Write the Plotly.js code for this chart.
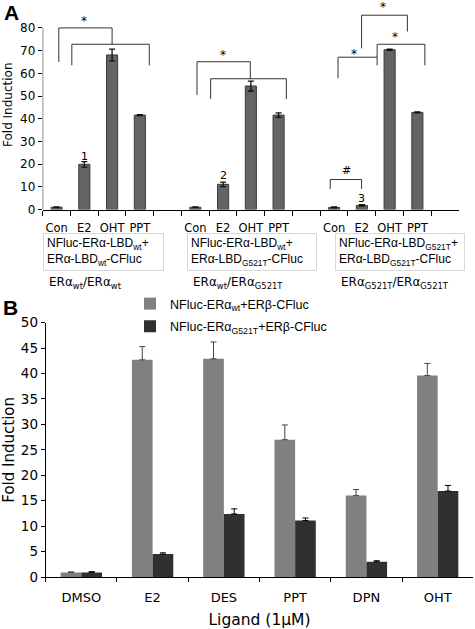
<!DOCTYPE html>
<html><head><meta charset="utf-8">
<script src="https://cdn.plot.ly/plotly-3.0.1.min.js"></script>
<style>html,body{margin:0;padding:0;background:#fff}#chart{width:475px;height:629px}</style>
</head><body><div id="chart"></div>
<script>
// ---------- Panel A data ----------
const ligandsA = ['Con', 'E2', 'OHT', 'PPT'];
const pairLabelsA = ['ERα<sub>wt</sub>/ERα<sub>wt</sub>', 'ERα<sub>wt</sub>/ERα<sub>G521T</sub>', 'ERα<sub>G521T</sub>/ERα<sub>G521T</sub>'];
const constructLabelsA = [
  'NFluc-ERα-LBD<sub>wt</sub>+<br>ERα-LBD<sub>wt</sub>-CFluc',
  'NFluc-ERα-LBD<sub>wt</sub>+<br>ERα-LBD<sub>G521T</sub>-CFluc',
  'NFluc-ERα-LBD<sub>G521T</sub>+<br>ERα-LBD<sub>G521T</sub>-CFluc'
];
const foldWtWt = [1.0, 19.9, 68.1, 41.6];
const errWtWt = [0.2, 1.2, 2.6, 0.2];
const foldWtMut = [1.0, 11.1, 54.4, 41.6];
const errWtMut = [0.2, 1.0, 2.2, 1.0];
const foldMutMut = [0.9, 1.8, 70.4, 42.8];
const errMutMut = [0.2, 0.3, 0.3, 0.2];
const markLabelsA = ['1', '2', '3'];

// ---------- Panel B data ----------
const ligandsB = ['DMSO', 'E2', 'DES', 'PPT', 'DPN', 'OHT'];
const seriesNamesB = ['NFluc-ERα<sub>wt</sub>+ERβ-CFluc', 'NFluc-ERα<sub>G521T</sub>+ERβ-CFluc'];
const foldBwt = [0.9, 42.7, 42.9, 27.0, 16.0, 39.6];
const errBwt = [0.1, 2.6, 3.3, 2.9, 1.2, 2.4];
const foldBmut = [0.9, 4.5, 12.4, 11.1, 3.0, 16.9];
const errBmut = [0.15, 0.25, 1.0, 0.5, 0.2, 1.1];

// ---------- helpers ----------
const W = 475, H = 629;
const px = p => p / W;
const py = p => 1 - p / H;
const groupsA = [foldWtWt, foldWtMut, foldMutMut];
const groupErrA = [errWtWt, errWtMut, errMutMut];

// build A bar positions (category index, one empty slot between groups)
const xA = [], yA = [], eA = [], tickValsA = [], tickTextA = [];
groupsA.forEach((vals, g) => {
  vals.forEach((v, i) => {
    const idx = g * (ligandsA.length + 1) + i;
    xA.push(idx); yA.push(v); eA.push(groupErrA[g][i]);
    tickValsA.push(idx); tickTextA.push(ligandsA[i]);
  });
});
const nSlotsA = groupsA.length * (ligandsA.length + 1) - 1;
const boundariesA = [];
for (let k = 0; k <= nSlotsA; k++) boundariesA.push(k - 0.5);

const traces = [
  {
    type: 'bar', x: xA, y: yA, xaxis: 'x', yaxis: 'y', width: 0.4,
    marker: { color: '#646464', line: { color: '#3a3a3a', width: 1 } },
    error_y: { type: 'data', array: eA, visible: true, color: '#111', thickness: 1.3, width: 3 },
    showlegend: false, hoverinfo: 'skip'
  },
  {
    type: 'bar', x: ligandsB, y: foldBwt, xaxis: 'x2', yaxis: 'y2', name: seriesNamesB[0],
    marker: { color: '#808080', line: { width: 0 } },
    error_y: { type: 'data', array: errBwt, arrayminus: errBwt.map(() => 0), symmetric: false, visible: true, color: '#444', thickness: 1, width: 3 },
    legend: 'legend', hoverinfo: 'skip'
  },
  {
    type: 'bar', x: ligandsB, y: foldBmut, xaxis: 'x2', yaxis: 'y2', name: seriesNamesB[1],
    marker: { color: '#303030', line: { width: 0 } },
    error_y: { type: 'data', array: errBmut, arrayminus: errBmut.map(() => 0), symmetric: false, visible: true, color: '#000', thickness: 1, width: 3 },
    legend: 'legend2', hoverinfo: 'skip'
  }
];

// significance brackets for panel A: [xLeft, xRight, yTop, yLeftBottom, yRightBottom]
const brackets = [
  [0.08, 2.0, 80, 65, 72.8],
  [0.55, 3.34, 72.8, 63.5, 63.5],
  [5.06, 6.98, 65.1, 50.5, 57.6],
  [5.55, 8.28, 57.6, 48.7, 48.7],
  [9.86, 10.99, 13.2, 9.0, 9.0],
  [10.14, 11.55, 67.1, 57.8, 67.1],
  [11.55, 13.27, 72.8, 63.5, 63.5],
  [10.99, 12.64, 85.6, 71.0, 78.4]
];
const shapes = [];
const ln = { color: '#333', width: 1 };
brackets.forEach(b => {
  shapes.push({ type: 'path', xref: 'x', yref: 'y', line: ln,
    path: `M${b[0]},${b[3]} L${b[0]},${b[2]} L${b[1]},${b[2]} L${b[1]},${b[4]}` });
});
// panel A y axis line (only up to 80)
shapes.push({ type: 'line', xref: 'x', yref: 'y', x0: -0.5, x1: -0.5, y0: 0, y1: 80, line: { color: '#000', width: 1 } });

const txt = (o) => Object.assign({ showarrow: false, font: { family: 'DejaVu Sans', size: 12, color: '#000' } }, o);
const starFont = { family: 'DejaVu Sans', size: 12, color: '#000000' };
const annotations = [
  txt({ xref: 'paper', yref: 'paper', x: px(2), y: py(12), xanchor: 'left', yanchor: 'middle', text: '<b>A</b>', font: { family: 'Liberation Sans', size: 21, color: '#000' } }),
  txt({ xref: 'paper', yref: 'paper', x: px(1), y: py(307), xanchor: 'left', yanchor: 'middle', text: '<b>B</b>', font: { family: 'Liberation Sans', size: 21, color: '#000' } }),
  // numbered marks
  txt({ xref: 'x', yref: 'y', x: 1, y: 23.3, yanchor: 'middle', text: markLabelsA[0], font: { family: 'DejaVu Sans', size: 11, color: '#000' } }),
  txt({ xref: 'x', yref: 'y', x: 6, y: 15.2, yanchor: 'middle', text: markLabelsA[1], font: { family: 'DejaVu Sans', size: 11, color: '#000' } }),
  txt({ xref: 'x', yref: 'y', x: 11, y: 4.9, yanchor: 'middle', text: markLabelsA[2], font: { family: 'DejaVu Sans', size: 11, color: '#000' } }),
  // stars and hash
  txt({ xref: 'x', yref: 'y', x: 1.0, y: 83.0, yanchor: 'middle', text: '*', font: starFont }),
  txt({ xref: 'x', yref: 'y', x: 6.0, y: 68.2, yanchor: 'middle', text: '*', font: starFont }),
  txt({ xref: 'x', yref: 'y', x: 10.7, y: 68.6, yanchor: 'middle', text: '*', font: starFont }),
  txt({ xref: 'x', yref: 'y', x: 12.2, y: 76.0, yanchor: 'middle', text: '*', font: starFont }),
  txt({ xref: 'x', yref: 'y', x: 11.75, y: 89.2, yanchor: 'middle', text: '*', font: starFont }),
  txt({ xref: 'x', yref: 'y', x: 10.45, y: 17.1, yanchor: 'middle', text: '#', font: { family: 'DejaVu Sans', size: 11, color: '#000' } })
];
// construct boxes and pair labels
const boxes = [[43, 164], [187, 317], [335, 465]];
boxes.forEach((b, g) => {
  annotations.push(txt({
    xref: 'paper', yref: 'paper', x: px((b[0] + b[1]) / 2), y: py(251.5), xanchor: 'center', yanchor: 'middle',
    text: constructLabelsA[g], align: 'left', width: b[1] - b[0] - 8, height: 30, borderpad: 3,
    bordercolor: '#d8d8d8', borderwidth: 1, valign: 'middle',
    font: { family: 'Liberation Sans', size: 12, color: '#000' }
  }));
  annotations.push(txt({
    xref: 'paper', yref: 'paper', x: px(b[0] + 4), y: py(283), xanchor: 'left', yanchor: 'middle',
    text: pairLabelsA[g], font: { family: 'DejaVu Sans', size: 12, color: '#000' }
  }));
});

const layout = {
  width: W, height: H,
  margin: { l: 0, r: 0, t: 0, b: 0 },
  paper_bgcolor: '#fff', plot_bgcolor: 'rgba(0,0,0,0)',
  barmode: 'group', bargap: 0.42, bargroupgap: 0,
  font: { family: 'DejaVu Sans', color: '#000' },
  xaxis: {
    domain: [px(42.7), px(459)], anchor: 'y', range: [-0.5, nSlotsA + 0.5],
    tickmode: 'array', tickvals: tickValsA, ticktext: tickTextA, ticks: '',
    minor: { tickmode: 'array', tickvals: boundariesA, ticks: 'outside', ticklen: 5, tickcolor: '#000', showgrid: false },
    showline: true, linecolor: '#000', linewidth: 1, zeroline: false, showgrid: false,
    tickfont: { family: 'DejaVu Sans', size: 11.5, color: '#000' }, ticklabelstandoff: 8, fixedrange: true
  },
  yaxis: {
    domain: [py(209.5), 1], anchor: 'x', range: [0, 92.3],
    tickmode: 'array', tickvals: [0, 10, 20, 30, 40, 50, 60, 70, 80],
    ticks: 'outside', ticklen: 4, tickcolor: '#000', showline: false, zeroline: false, showgrid: false,
    tickfont: { family: 'DejaVu Sans', size: 12, color: '#000' },
    title: { text: 'Fold Induction', font: { family: 'DejaVu Sans', size: 12, color: '#000' }, standoff: 4 }, fixedrange: true
  },
  xaxis2: {
    domain: [px(45.7), px(473.3)], anchor: 'y2', type: 'category', tickson: 'boundaries',
    ticks: 'outside', ticklen: 4, tickcolor: '#000', showline: true, linecolor: '#000', linewidth: 1,
    showgrid: false, zeroline: false,
    tickfont: { family: 'DejaVu Sans', size: 13, color: '#000' }, ticklabelstandoff: 8,
    title: { text: 'Ligand (1μM)', font: { family: 'DejaVu Sans', size: 15.5, color: '#000' }, standoff: 12 }, fixedrange: true
  },
  yaxis2: {
    domain: [py(577), py(322.7)], anchor: 'x2', range: [0, 50], dtick: 5, tick0: 0,
    ticks: 'outside', ticklen: 4, tickcolor: '#000', showline: true, linecolor: '#000', linewidth: 1,
    showgrid: false, zeroline: false,
    tickfont: { family: 'DejaVu Sans', size: 13.5, color: '#000' },
    title: { text: 'Fold Induction', font: { family: 'DejaVu Sans', size: 15, color: '#000' }, standoff: 6 }, fixedrange: true
  },
  legend: { x: px(130), y: py(304), xanchor: 'left', yanchor: 'middle', bgcolor: 'rgba(0,0,0,0)',
    font: { family: 'Liberation Sans', size: 12.5, color: '#000' } },
  legend2: { x: px(130), y: py(326.5), xanchor: 'left', yanchor: 'middle', bgcolor: 'rgba(0,0,0,0)',
    font: { family: 'Liberation Sans', size: 12.5, color: '#000' } },
  shapes: shapes,
  annotations: annotations
};

Plotly.newPlot('chart', traces, layout, { displayModeBar: false, staticPlot: true });
</script>
</body></html>
